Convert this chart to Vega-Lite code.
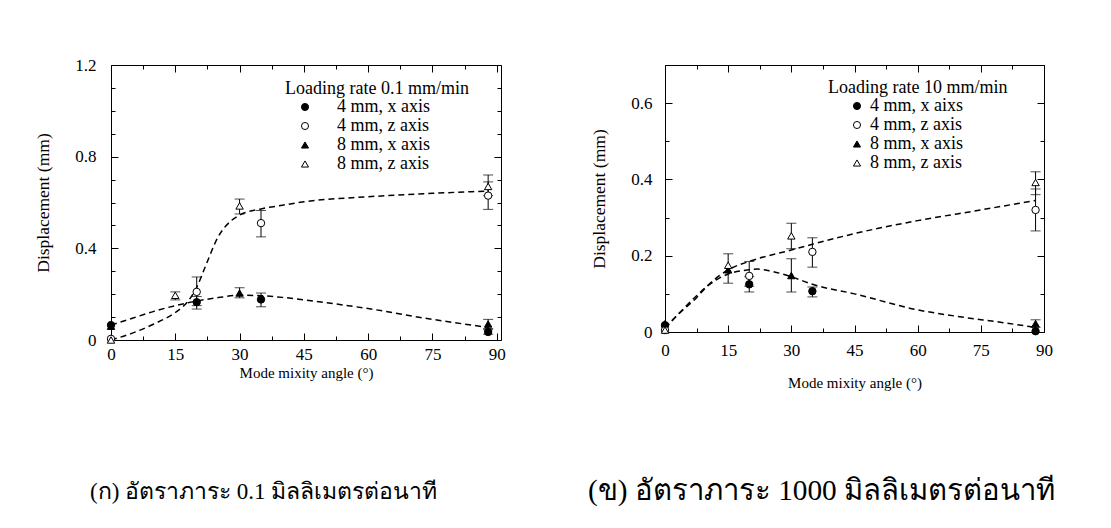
{
  "$schema": "https://vega.github.io/schema/vega-lite/v6.json",
  "background": "white",
  "padding": {"left": 34, "top": 56, "right": 0, "bottom": 0},
  "spacing": 82,
  "resolve": {
    "scale": {"shape": "independent", "fill": "independent", "stroke": "independent"},
    "legend": {"shape": "independent", "fill": "independent", "stroke": "independent"}
  },
  "config": {
    "font": "Liberation Serif",
    "view": {"stroke": null},
    "axis": {
      "grid": false,
      "domainColor": "black",
      "domainWidth": 1,
      "tickColor": "black",
      "tickWidth": 1,
      "labelColor": "black",
      "titleColor": "black",
      "labelFont": "Liberation Serif",
      "titleFont": "Liberation Serif",
      "labelFontSize": 17,
      "titleFontSize": 17.5,
      "titleFontWeight": "normal",
      "labelFlush": false,
      "labelOverlap": false
    },
    "legend": {
      "titleFont": "Liberation Serif",
      "labelFont": "Liberation Serif",
      "titleFontSize": 18,
      "labelFontSize": 18,
      "titleFontWeight": "normal",
      "titleColor": "black",
      "labelColor": "black",
      "titleLimit": 400,
      "labelLimit": 300,
      "symbolStrokeWidth": 1,
      "symbolSize": 50,
      "rowPadding": 1,
      "titlePadding": 0,
      "padding": 0
    },
    "title": {"font": "Liberation Serif", "fontWeight": "normal", "color": "black"}
  },
  "datasets": {
    "fitL": [
      {"curve": "z", "angle": 0, "disp": 0.0},
      {"curve": "z", "angle": 5, "disp": 0.03},
      {"curve": "z", "angle": 10, "disp": 0.07},
      {"curve": "z", "angle": 15, "disp": 0.12},
      {"curve": "z", "angle": 18, "disp": 0.17},
      {"curve": "z", "angle": 20, "disp": 0.23},
      {"curve": "z", "angle": 22, "disp": 0.32},
      {"curve": "z", "angle": 25, "disp": 0.45},
      {"curve": "z", "angle": 28, "disp": 0.52},
      {"curve": "z", "angle": 30, "disp": 0.545},
      {"curve": "z", "angle": 35, "disp": 0.572},
      {"curve": "z", "angle": 40, "disp": 0.588},
      {"curve": "z", "angle": 45, "disp": 0.603},
      {"curve": "z", "angle": 60, "disp": 0.625},
      {"curve": "z", "angle": 75, "disp": 0.64},
      {"curve": "z", "angle": 88, "disp": 0.65},
      {"curve": "x", "angle": 0, "disp": 0.065},
      {"curve": "x", "angle": 5, "disp": 0.095},
      {"curve": "x", "angle": 10, "disp": 0.125},
      {"curve": "x", "angle": 15, "disp": 0.15},
      {"curve": "x", "angle": 20, "disp": 0.17},
      {"curve": "x", "angle": 25, "disp": 0.185},
      {"curve": "x", "angle": 30, "disp": 0.195},
      {"curve": "x", "angle": 35, "disp": 0.193},
      {"curve": "x", "angle": 40, "disp": 0.186},
      {"curve": "x", "angle": 45, "disp": 0.175},
      {"curve": "x", "angle": 60, "disp": 0.137},
      {"curve": "x", "angle": 75, "disp": 0.09},
      {"curve": "x", "angle": 88, "disp": 0.055}
    ],
    "ptsL": [
      {"series": "4 mm, x axis", "angle": 0, "disp": 0.065, "lo": null, "hi": null},
      {"series": "4 mm, x axis", "angle": 20, "disp": 0.165, "lo": 0.135, "hi": 0.19},
      {"series": "4 mm, x axis", "angle": 35, "disp": 0.177, "lo": 0.145, "hi": 0.205},
      {"series": "4 mm, x axis", "angle": 88, "disp": 0.035, "lo": 0.025, "hi": 0.045},
      {"series": "4 mm, z axis", "angle": 0, "disp": 0.005, "lo": null, "hi": null},
      {"series": "4 mm, z axis", "angle": 20, "disp": 0.21, "lo": 0.15, "hi": 0.275},
      {"series": "4 mm, z axis", "angle": 35, "disp": 0.51, "lo": 0.45, "hi": 0.565},
      {"series": "4 mm, z axis", "angle": 88, "disp": 0.63, "lo": 0.57, "hi": 0.69},
      {"series": "8 mm, x axis", "angle": 0, "disp": 0.06, "lo": null, "hi": null},
      {"series": "8 mm, x axis", "angle": 30, "disp": 0.205, "lo": 0.184, "hi": 0.228},
      {"series": "8 mm, x axis", "angle": 88, "disp": 0.07, "lo": 0.05, "hi": 0.09},
      {"series": "8 mm, z axis", "angle": 0, "disp": 0.0, "lo": null, "hi": null},
      {"series": "8 mm, z axis", "angle": 15, "disp": 0.195, "lo": 0.175, "hi": 0.21},
      {"series": "8 mm, z axis", "angle": 30, "disp": 0.585, "lo": 0.55, "hi": 0.615},
      {"series": "8 mm, z axis", "angle": 88, "disp": 0.67, "lo": 0.63, "hi": 0.72}
    ],
    "fitR": [
      {"curve": "z", "angle": 0, "disp": 0.01},
      {"curve": "z", "angle": 3, "disp": 0.045},
      {"curve": "z", "angle": 7.5, "disp": 0.09},
      {"curve": "z", "angle": 10, "disp": 0.12},
      {"curve": "z", "angle": 15, "disp": 0.163},
      {"curve": "z", "angle": 20, "disp": 0.185},
      {"curve": "z", "angle": 30, "disp": 0.215},
      {"curve": "z", "angle": 35, "disp": 0.23},
      {"curve": "z", "angle": 45, "disp": 0.258},
      {"curve": "z", "angle": 60, "disp": 0.292},
      {"curve": "z", "angle": 75, "disp": 0.32},
      {"curve": "z", "angle": 88, "disp": 0.345},
      {"curve": "x", "angle": 0, "disp": 0.01},
      {"curve": "x", "angle": 3, "disp": 0.045},
      {"curve": "x", "angle": 7.5, "disp": 0.095},
      {"curve": "x", "angle": 10, "disp": 0.12},
      {"curve": "x", "angle": 15, "disp": 0.152},
      {"curve": "x", "angle": 20, "disp": 0.163},
      {"curve": "x", "angle": 22, "disp": 0.165},
      {"curve": "x", "angle": 25, "disp": 0.16},
      {"curve": "x", "angle": 30, "disp": 0.145},
      {"curve": "x", "angle": 35, "disp": 0.125},
      {"curve": "x", "angle": 45, "disp": 0.1},
      {"curve": "x", "angle": 60, "disp": 0.058},
      {"curve": "x", "angle": 70, "disp": 0.04},
      {"curve": "x", "angle": 80, "disp": 0.025},
      {"curve": "x", "angle": 88, "disp": 0.012}
    ],
    "ptsR": [
      {"series": "4 mm, x aixs", "angle": 0, "disp": 0.018, "lo": null, "hi": null},
      {"series": "4 mm, x aixs", "angle": 20, "disp": 0.125, "lo": 0.105, "hi": 0.145},
      {"series": "4 mm, x aixs", "angle": 35, "disp": 0.107, "lo": 0.092, "hi": 0.118},
      {"series": "4 mm, x aixs", "angle": 88, "disp": 0.002, "lo": null, "hi": null},
      {"series": "4 mm, z axis", "angle": 0, "disp": 0.005, "lo": null, "hi": null},
      {"series": "4 mm, z axis", "angle": 20, "disp": 0.147, "lo": 0.12, "hi": 0.185},
      {"series": "4 mm, z axis", "angle": 35, "disp": 0.21, "lo": 0.17, "hi": 0.247},
      {"series": "4 mm, z axis", "angle": 88, "disp": 0.32, "lo": 0.265, "hi": 0.375},
      {"series": "8 mm, x axis", "angle": 0, "disp": 0.022, "lo": null, "hi": null},
      {"series": "8 mm, x axis", "angle": 15, "disp": 0.163, "lo": null, "hi": null},
      {"series": "8 mm, x axis", "angle": 30, "disp": 0.148, "lo": 0.105, "hi": 0.192},
      {"series": "8 mm, x axis", "angle": 88, "disp": 0.022, "lo": 0.012, "hi": 0.032},
      {"series": "8 mm, z axis", "angle": 0, "disp": 0.005, "lo": null, "hi": null},
      {"series": "8 mm, z axis", "angle": 15, "disp": 0.175, "lo": 0.128, "hi": 0.205},
      {"series": "8 mm, z axis", "angle": 30, "disp": 0.252, "lo": 0.218, "hi": 0.285},
      {"series": "8 mm, z axis", "angle": 88, "disp": 0.392, "lo": 0.36, "hi": 0.42}
    ]
  },
  "hconcat": [
    {
      "width": 390,
      "height": 275,
      "title": {"text": "(ก)  อัตราภาระ 0.1 มิลลิเมตรต่อนาที", "orient": "bottom", "anchor": "start", "frame": "group", "dx": -21, "offset": 101, "fontSize": 23},
      "resolve": {"axis": {"x": "independent", "y": "independent"}},
      "layer": [
        {
          "data": {"name": "fitL"},
          "mark": {"type": "line", "color": "black", "strokeWidth": 1.5, "strokeDash": [6, 4], "interpolate": "monotone"},
          "encoding": {
            "x": {"field": "angle", "type": "quantitative", "scale": {"domain": [0, 91], "nice": false, "zero": false},
              "axis": {"orient": "bottom", "values": [0, 7.5, 15, 22.5, 30, 37.5, 45, 52.5, 60, 67.5, 75, 82.5, 90],
                "labelExpr": "datum.value % 15 === 0 ? format(datum.value, 'd') : ''",
                "tickSize": {"condition": {"test": "datum.value % 15 === 0", "value": -7}, "value": -4},
                "labelPadding": 13, "title": "Mode mixity angle (°)", "titleFontSize": 15, "titlePadding": 0}},
            "y": {"field": "disp", "type": "quantitative", "scale": {"domain": [0, 1.2], "nice": false},
              "axis": {"orient": "left", "values": [0, 0.1, 0.2, 0.3, 0.4, 0.5, 0.6, 0.7, 0.8, 0.9, 1.0, 1.1, 1.2],
                "labelExpr": "round(datum.value * 10) % 4 === 0 ? format(datum.value, '.1~f') : ''",
                "tickSize": {"condition": {"test": "round(datum.value * 10) % 4 === 0", "value": -7}, "value": -4},
                "labelPadding": 22, "title": "Displacement (mm)", "titlePadding": 22}},
            "detail": {"field": "curve", "type": "nominal"}
          }
        },
        {
          "data": {"name": "ptsL"},
          "transform": [{"filter": "isValid(datum.lo)"}],
          "mark": {"type": "rule", "color": "black", "strokeWidth": 1},
          "encoding": {
            "x": {"field": "angle", "type": "quantitative", "scale": {"domain": [0, 91], "nice": false, "zero": false},
              "axis": {"orient": "top", "values": [0, 7.5, 15, 22.5, 30, 37.5, 45, 52.5, 60, 67.5, 75, 82.5, 90], "labels": false, "title": null,
                "tickSize": {"condition": {"test": "datum.value % 15 === 0", "value": -7}, "value": -4}}},
            "y": {"field": "lo", "type": "quantitative", "scale": {"domain": [0, 1.2], "nice": false},
              "axis": {"orient": "right", "values": [0, 0.1, 0.2, 0.3, 0.4, 0.5, 0.6, 0.7, 0.8, 0.9, 1.0, 1.1, 1.2], "labels": false, "title": null,
                "tickSize": {"condition": {"test": "round(datum.value * 10) % 4 === 0", "value": -7}, "value": -4}}},
            "y2": {"field": "hi"}
          }
        },
        {
          "data": {"name": "ptsL"},
          "transform": [{"filter": "isValid(datum.lo)"}],
          "mark": {"type": "tick", "orient": "horizontal", "color": "black", "size": 10, "thickness": 1},
          "encoding": {
            "x": {"field": "angle", "type": "quantitative", "scale": {"domain": [0, 91], "nice": false, "zero": false}, "axis": null},
            "y": {"field": "lo", "type": "quantitative", "scale": {"domain": [0, 1.2], "nice": false}, "axis": null}
          }
        },
        {
          "data": {"name": "ptsL"},
          "transform": [{"filter": "isValid(datum.hi)"}],
          "mark": {"type": "tick", "orient": "horizontal", "color": "black", "size": 10, "thickness": 1},
          "encoding": {
            "x": {"field": "angle", "type": "quantitative", "scale": {"domain": [0, 91], "nice": false, "zero": false}, "axis": null},
            "y": {"field": "hi", "type": "quantitative", "scale": {"domain": [0, 1.2], "nice": false}, "axis": null}
          }
        },
        {
          "data": {"name": "ptsL"},
          "mark": {"type": "point", "filled": true, "strokeWidth": 1, "size": 55, "opacity": 1},
          "encoding": {
            "x": {"field": "angle", "type": "quantitative", "scale": {"domain": [0, 91], "nice": false, "zero": false}, "axis": null},
            "y": {"field": "disp", "type": "quantitative", "scale": {"domain": [0, 1.2], "nice": false}, "axis": null},
            "shape": {"field": "series", "type": "nominal",
              "scale": {"domain": ["4 mm, x axis", "4 mm, z axis", "8 mm, x axis", "8 mm, z axis"], "range": ["circle", "circle", "triangle-up", "triangle-up"]},
              "legend": {"title": "Loading rate 0.1 mm/min", "orient": "none", "legendX": 174, "legendY": 15, "symbolOffset": 11, "labelOffset": 23}},
            "fill": {"field": "series", "type": "nominal",
              "scale": {"domain": ["4 mm, x axis", "4 mm, z axis", "8 mm, x axis", "8 mm, z axis"], "range": ["black", "white", "black", "white"]},
              "legend": {"title": "Loading rate 0.1 mm/min", "orient": "none", "legendX": 174, "legendY": 15, "symbolOffset": 11, "labelOffset": 23}},
            "stroke": {"field": "series", "type": "nominal",
              "scale": {"domain": ["4 mm, x axis", "4 mm, z axis", "8 mm, x axis", "8 mm, z axis"], "range": ["black", "black", "black", "black"]},
              "legend": {"title": "Loading rate 0.1 mm/min", "orient": "none", "legendX": 174, "legendY": 15, "symbolOffset": 11, "labelOffset": 23}}
          }
        }
      ]
    },
    {
      "width": 379,
      "height": 267,
      "title": {"text": "(ข)  อัตราภาระ 1000 มิลลิเมตรต่อนาที", "orient": "bottom", "anchor": "start", "frame": "group", "dx": -77, "offset": 87, "fontSize": 29.3},
      "resolve": {"axis": {"x": "independent", "y": "independent"}},
      "layer": [
        {
          "data": {"name": "fitR"},
          "mark": {"type": "line", "color": "black", "strokeWidth": 1.5, "strokeDash": [6, 4], "interpolate": "monotone"},
          "encoding": {
            "x": {"field": "angle", "type": "quantitative", "scale": {"domain": [0, 90], "nice": false, "zero": false},
              "axis": {"orient": "bottom", "values": [0, 7.5, 15, 22.5, 30, 37.5, 45, 52.5, 60, 67.5, 75, 82.5, 90],
                "labelExpr": "datum.value % 15 === 0 ? format(datum.value, 'd') : ''",
                "tickSize": {"condition": {"test": "datum.value % 15 === 0", "value": -7}, "value": -4},
                "labelPadding": 17, "title": "Mode mixity angle (°)", "titleFontSize": 15, "titlePadding": 14}},
            "y": {"field": "disp", "type": "quantitative", "scale": {"domain": [0, 0.7], "nice": false},
              "axis": {"orient": "left", "values": [0, 0.1, 0.2, 0.3, 0.4, 0.5, 0.6, 0.7],
                "labelExpr": "round(datum.value * 10) % 2 === 0 ? format(datum.value, '.1~f') : ''",
                "tickSize": {"condition": {"test": "round(datum.value * 10) % 2 === 0", "value": -7}, "value": -4},
                "labelPadding": 20, "title": "Displacement (mm)", "titlePadding": 22}},
            "detail": {"field": "curve", "type": "nominal"}
          }
        },
        {
          "data": {"name": "ptsR"},
          "transform": [{"filter": "isValid(datum.lo)"}],
          "mark": {"type": "rule", "color": "black", "strokeWidth": 1},
          "encoding": {
            "x": {"field": "angle", "type": "quantitative", "scale": {"domain": [0, 90], "nice": false, "zero": false},
              "axis": {"orient": "top", "values": [0, 7.5, 15, 22.5, 30, 37.5, 45, 52.5, 60, 67.5, 75, 82.5, 90], "labels": false, "title": null,
                "tickSize": {"condition": {"test": "datum.value % 15 === 0", "value": -7}, "value": -4}}},
            "y": {"field": "lo", "type": "quantitative", "scale": {"domain": [0, 0.7], "nice": false},
              "axis": {"orient": "right", "values": [0, 0.1, 0.2, 0.3, 0.4, 0.5, 0.6, 0.7], "labels": false, "title": null,
                "tickSize": {"condition": {"test": "round(datum.value * 10) % 2 === 0", "value": -7}, "value": -4}}},
            "y2": {"field": "hi"}
          }
        },
        {
          "data": {"name": "ptsR"},
          "transform": [{"filter": "isValid(datum.lo)"}],
          "mark": {"type": "tick", "orient": "horizontal", "color": "black", "size": 10, "thickness": 1},
          "encoding": {
            "x": {"field": "angle", "type": "quantitative", "scale": {"domain": [0, 90], "nice": false, "zero": false}, "axis": null},
            "y": {"field": "lo", "type": "quantitative", "scale": {"domain": [0, 0.7], "nice": false}, "axis": null}
          }
        },
        {
          "data": {"name": "ptsR"},
          "transform": [{"filter": "isValid(datum.hi)"}],
          "mark": {"type": "tick", "orient": "horizontal", "color": "black", "size": 10, "thickness": 1},
          "encoding": {
            "x": {"field": "angle", "type": "quantitative", "scale": {"domain": [0, 90], "nice": false, "zero": false}, "axis": null},
            "y": {"field": "hi", "type": "quantitative", "scale": {"domain": [0, 0.7], "nice": false}, "axis": null}
          }
        },
        {
          "data": {"name": "ptsR"},
          "mark": {"type": "point", "filled": true, "strokeWidth": 1, "size": 55, "opacity": 1},
          "encoding": {
            "x": {"field": "angle", "type": "quantitative", "scale": {"domain": [0, 90], "nice": false, "zero": false}, "axis": null},
            "y": {"field": "disp", "type": "quantitative", "scale": {"domain": [0, 0.7], "nice": false}, "axis": null},
            "shape": {"field": "series", "type": "nominal",
              "scale": {"domain": ["4 mm, x aixs", "4 mm, z axis", "8 mm, x axis", "8 mm, z axis"], "range": ["circle", "circle", "triangle-up", "triangle-up"]},
              "legend": {"title": "Loading rate 10 mm/min", "orient": "none", "legendX": 163, "legendY": 14, "symbolOffset": 20, "labelOffset": 4}},
            "fill": {"field": "series", "type": "nominal",
              "scale": {"domain": ["4 mm, x aixs", "4 mm, z axis", "8 mm, x axis", "8 mm, z axis"], "range": ["black", "white", "black", "white"]},
              "legend": {"title": "Loading rate 10 mm/min", "orient": "none", "legendX": 163, "legendY": 14, "symbolOffset": 20, "labelOffset": 4}},
            "stroke": {"field": "series", "type": "nominal",
              "scale": {"domain": ["4 mm, x aixs", "4 mm, z axis", "8 mm, x axis", "8 mm, z axis"], "range": ["black", "black", "black", "black"]},
              "legend": {"title": "Loading rate 10 mm/min", "orient": "none", "legendX": 163, "legendY": 14, "symbolOffset": 20, "labelOffset": 4}}
          }
        }
      ]
    }
  ]
}
